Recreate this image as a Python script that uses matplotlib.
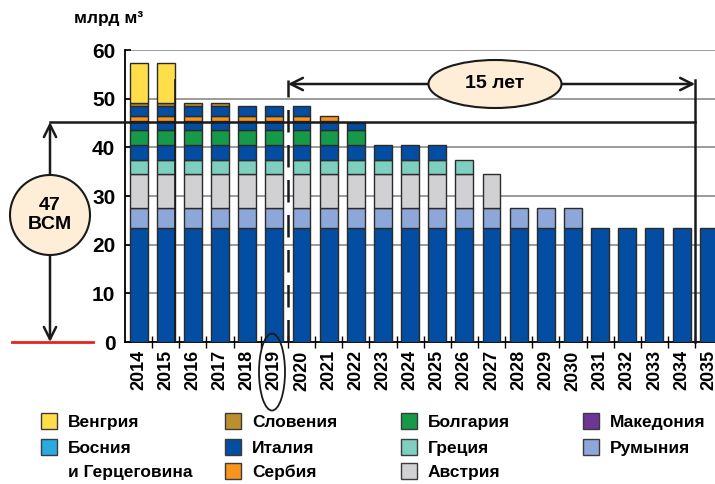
import numpy as np
import matplotlib
matplotlib.use('Agg')
from matplotlib import pyplot as plt
from matplotlib.patches import Ellipse, Rectangle

plt.rcParams['font.family'] = ['Liberation Sans', 'DejaVu Sans']
plt.rcParams['font.weight'] = 'bold'

# данные: млрд м3 по годам, слои снизу вверх
years = ['2014', '2015', '2016', '2017', '2018', '2019', '2020', '2021', '2022', '2023', '2024',
         '2025', '2026', '2027', '2028', '2029', '2030', '2031', '2032', '2033', '2034', '2035']
italy = [23.5, 23.5, 23.5, 23.5, 23.5, 23.5, 23.5, 23.5, 23.5, 23.5, 23.5,
         23.5, 23.5, 23.5, 23.5, 23.5, 23.5, 23.5, 23.5, 23.5, 23.5, 23.5]
romania = [4, 4, 4, 4, 4, 4, 4, 4, 4, 4, 4, 4, 4, 4, 4, 4, 4, 0, 0, 0, 0, 0]
austria = [7, 7, 7, 7, 7, 7, 7, 7, 7, 7, 7, 7, 7, 7, 0, 0, 0, 0, 0, 0, 0, 0]
greece = [3, 3, 3, 3, 3, 3, 3, 3, 3, 3, 3, 3, 3, 0, 0, 0, 0, 0, 0, 0, 0, 0]
italy_2 = [3, 3, 3, 3, 3, 3, 3, 3, 3, 3, 3, 3, 0, 0, 0, 0, 0, 0, 0, 0, 0, 0]
bulgaria = [3, 3, 3, 3, 3, 3, 3, 3, 3, 0, 0, 0, 0, 0, 0, 0, 0, 0, 0, 0, 0, 0]
italy_3 = [1.9, 1.9, 1.9, 1.9, 1.9, 1.9, 1.9, 1.9, 1.5, 0, 0, 0, 0, 0, 0, 0, 0, 0, 0, 0, 0, 0]
serbia = [1.0, 1.0, 1.0, 1.0, 1.0, 1.0, 1.0, 1.0, 0, 0, 0, 0, 0, 0, 0, 0, 0, 0, 0, 0, 0, 0]
italy_4 = [2.0, 2.0, 2.0, 2.0, 2.0, 2.0, 2.0, 0, 0, 0, 0, 0, 0, 0, 0, 0, 0, 0, 0, 0, 0, 0]
slovenia = [0.8, 0.8, 0.8, 0.8, 0, 0, 0, 0, 0, 0, 0, 0, 0, 0, 0, 0, 0, 0, 0, 0, 0, 0]
hungary = [8.2, 8.2, 0, 0, 0, 0, 0, 0, 0, 0, 0, 0, 0, 0, 0, 0, 0, 0, 0, 0, 0, 0]

C_HUN = '#FFDE4A'
C_SLO = '#BC8F2E'
C_BUL = '#17994A'
C_MAC = '#6F3596'
C_BOS = '#29ABE2'
C_ITA = '#034EA2'
C_GRE = '#7FCFC0'
C_SER = '#F7941D'
C_ROM = '#8DA8D8'
C_AUS = '#D1D0D2'

layers = [(italy, C_ITA), (romania, C_ROM), (austria, C_AUS), (greece, C_GRE),
          (italy_2, C_ITA), (bulgaria, C_BUL), (italy_3, C_ITA), (serbia, C_SER),
          (italy_4, C_ITA), (slovenia, C_SLO), (hungary, C_HUN)]

legend_cols = [[('Венгрия', C_HUN), ('Босния', C_BOS)],
               [('Словения', C_SLO), ('Италия', C_ITA), ('Сербия', C_SER)],
               [('Болгария', C_BUL), ('Греция', C_GRE), ('Австрия', C_AUS)],
               [('Македония', C_MAC), ('Румыния', C_ROM)]]

W, H = 715, 484
fig = plt.figure(figsize=(W / 100, H / 100), dpi=100)
ax = fig.add_axes([125 / W, 1 - 342 / H, 1 - 125 / W, 292 / H])

x = np.arange(len(years))
bottom = np.zeros(len(years))
for vals, col in layers:
    v = np.array(vals, dtype=float)
    ax.bar(x[v > 0], v[v > 0], 0.66, bottom=bottom[v > 0], color=col,
           edgecolor='#2b2b2b', linewidth=1.0, zorder=3)
    bottom += v

step = 27.15  # пикселей на год
ax.set_xlim(-0.5, -0.5 + (W - 125) / step)
ax.set_ylim(0, 60)

for g in range(10, 61, 10):
    ax.axhline(g, color='#8a8a8a', lw=1.2, zorder=1)

ax.spines['top'].set_visible(False)
ax.spines['right'].set_visible(False)
ax.spines['left'].set_linewidth(1.3)
ax.spines['bottom'].set_linewidth(1.3)
ax.set_yticks(range(0, 61, 10))
ax.set_yticklabels([str(v) for v in range(0, 61, 10)], fontsize=15, fontweight='bold')
ax.tick_params(axis='y', direction='in', length=4, width=1.2, pad=7)
ax.set_xticks(x)
ax.set_xticklabels(years, rotation=90, fontsize=13, fontweight='bold')
ax.tick_params(axis='x', length=0, pad=6)
ax.set_xticks(x[:-1] + 0.5, minor=True)
ax.tick_params(axis='x', which='minor', direction='inout', length=8, width=1)

fig.text(109 / W, 1 - 18 / H, 'млрд м³', ha='center', va='center', fontsize=12.5, fontweight='bold')

def px2x(px):
    return -0.5 + (px - 125) / step

def px2y(py):
    return (342 - py) / (292 / 60)

# линия 47 BCM и стрелки
y_line = 45.2
ax.plot([px2x(50), 20.5], [y_line, y_line], color='#1a1a1a', lw=1.8, clip_on=False, zorder=5)
ax.plot([20.5, 20.5], [0, px2y(80)], color='#1a1a1a', lw=1.8, clip_on=False, zorder=5)
ax.plot([1.34, 1.34], [0, px2y(80)], color='#1a1a1a', lw=1.2, clip_on=False, zorder=5)
ax.plot([5.5, 5.5], [0, px2y(80)], color='#1a1a1a', lw=1.8, dashes=(9, 5), clip_on=False, zorder=5)

y_arr = px2y(84)
ax.annotate('', xy=(5.5, y_arr), xytext=(20.5, y_arr),
            arrowprops=dict(arrowstyle='<->', lw=1.8, color='#1a1a1a', mutation_scale=22,
                            shrinkA=0, shrinkB=0), annotation_clip=False, zorder=5)
ax.add_patch(Ellipse((px2x(495), y_arr), 133 / step, 48 / (292 / 60), facecolor='#FEEED8',
                     edgecolor='#1a1a1a', lw=1.5, clip_on=False, zorder=6))
ax.text(px2x(495), y_arr, '15 лет', ha='center', va='center', fontsize=14, fontweight='bold', zorder=7)

xl = px2x(50)
ax.annotate('', xy=(xl, y_line), xytext=(xl, 0),
            arrowprops=dict(arrowstyle='<->', lw=1.8, color='#1a1a1a', mutation_scale=22,
                            shrinkA=0, shrinkB=0), annotation_clip=False, zorder=5)
ax.add_patch(Ellipse((xl, px2y(215)), 80 / step, 80 / (292 / 60), facecolor='#FEEED8',
                     edgecolor='#1a1a1a', lw=1.5, clip_on=False, zorder=6))
ax.text(xl, px2y(215), '47\nBCM', ha='center', va='center', fontsize=14, fontweight='bold',
        linespacing=1.1, zorder=7)
ax.plot([px2x(12), px2x(93)], [0, 0], color='#E8231E', lw=2, clip_on=False, zorder=5)

# овал вокруг 2019
ax.add_patch(Ellipse((px2x(272), px2y(372)), 26 / step, 77 / (292 / 60), facecolor='none',
                     edgecolor='#1a1a1a', lw=1.3, clip_on=False, zorder=6))

# легенда
col_x = [41, 225, 401, 583]
row_y = [421, 447, 471]
for cx, items in zip(col_x, legend_cols):
    for r, (label, col) in enumerate(items):
        cy = row_y[r]
        fig.add_artist(Rectangle((cx / W, 1 - (cy + 8) / H), 16 / W, 16 / H, transform=fig.transFigure,
                                 facecolor=col, edgecolor='#3a3a3a', lw=1))
        fig.text((cx + 27) / W, 1 - (cy + 6) / H, label, ha='left', va='baseline',
                 fontsize=12.5, fontweight='bold')
fig.text((col_x[0] + 27) / W, 1 - (row_y[2] + 6) / H, 'и Герцеговина', ha='left', va='baseline',
         fontsize=12.5, fontweight='bold')

fig.savefig('out.png', dpi=100)
